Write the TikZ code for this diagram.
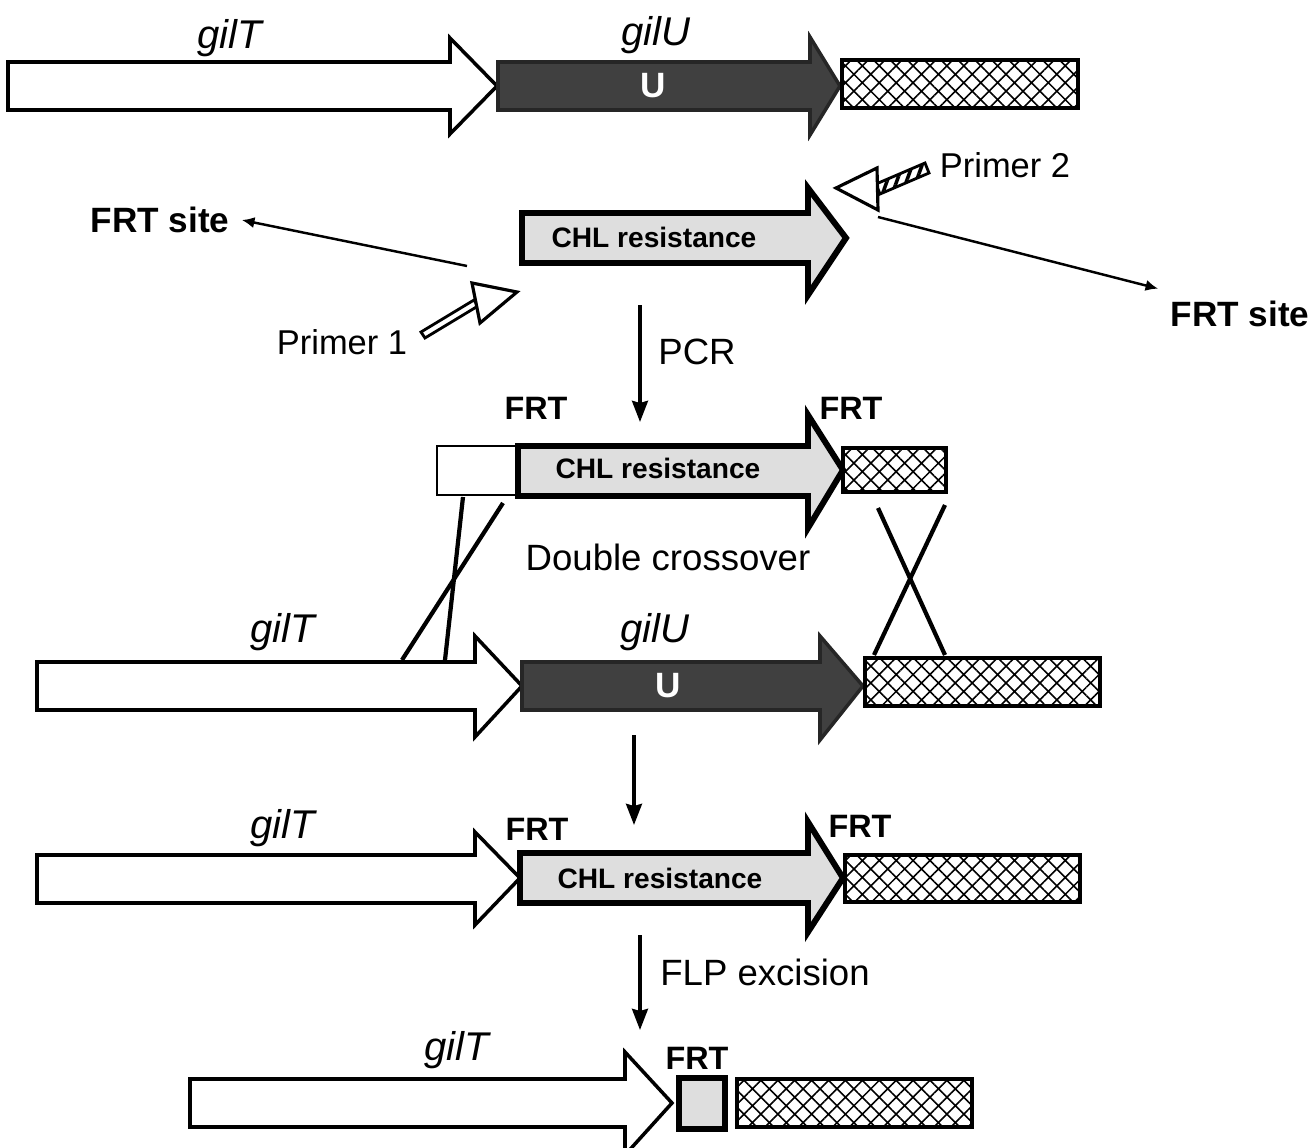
\documentclass[tikz,border=0pt]{standalone}
\usepackage{fontspec}
\setmainfont{Liberation Sans}
\usetikzlibrary{arrows.meta,patterns.meta}

\tikzset{
  gene/.style={draw, line width=1pt, fill=white, line join=miter},
  geneU/.style={draw=black!85, line width=1pt, fill=black!75, line join=miter},
  chl/.style={draw, line width=1.7pt, fill=black!13, line join=miter},
  hatchbox/.style={draw, line width=0.9pt, pattern={Hatch[angle=45,distance=3.4pt,line width=0.45pt]}},
  genename/.style={font=\fontsize{11.4}{13}\selectfont\itshape},
  sitetext/.style={font=\fontsize{10}{12}\selectfont\bfseries},
  primertext/.style={font=\fontsize{9.8}{12}\selectfont},
  chltext/.style={font=\fontsize{8}{10}\selectfont\bfseries},
  steptext/.style={font=\fontsize{10.4}{12}\selectfont},
  frttext/.style={font=\fontsize{9.2}{11}\selectfont\bfseries},
  utext/.style={font=\fontsize{10}{12}\selectfont\bfseries, text=white},
  flowarrow/.style={line width=1pt, -{Stealth[length=6pt,width=4.5pt,inset=0.6pt]}},
  pointer/.style={line width=0.7pt, -{Latex[length=3.6pt,width=3.2pt]}},
  crossline/.style={line width=1.2pt},
}

\begin{document}
\begin{tikzpicture}[x=0.01cm, y=-0.01cm]
  \useasboundingbox (0,0) rectangle (1314,1148);

  % Row 1: wild type
  \draw[gene] (8,62) -- (450,62) -- (450,38) -- (497,86) -- (450,134) -- (450,110) -- (8,110) -- cycle;
  \draw[geneU] (498,62) -- (810,62) -- (810,37) -- (840,86) -- (810,135) -- (810,110) -- (498,110) -- cycle;
  \draw[hatchbox] (842,60) rectangle (1078,108);
  \node[genename] (gilTa) at (230,38) {gilT};
  \node[genename] (gilUa) at (656,35) {gilU};
  \node[utext] (Ua) at (653,86) {U};

  % Template and primers
  \draw[chl] (522,213) -- (808,213) -- (808,188) -- (846,238) -- (808,295) -- (808,263) -- (522,263) -- cycle;
  \node[chltext] (chlA) at (654,237) {CHL resistance};
  % Primer 1
  \draw[line width=0.8pt, fill=white] (421,332) -- (425,338) -- (478,306) -- (474,300) -- cycle;
  \draw[line width=0.9pt, fill=white, line join=miter] (472,283) -- (517,292) -- (480,323) -- cycle;
  \node[primertext] (primA) at (342,342) {Primer 1};
  % Primer 2
  \draw[line width=0.8pt, pattern={Lines[angle=70,distance=2.6pt,line width=1pt]}] (880,194) -- (876,184) -- (925,163) -- (929,173) -- cycle;
  \draw[line width=0.9pt, fill=white, line join=miter] (836,188) -- (877,168) -- (878,210) -- cycle;
  \node[primertext] (primB) at (1005,165) {Primer 2};
  % FRT site pointers
  \node[sitetext] (siteL) at (160,220) {FRT site};
  \node[sitetext] (siteR) at (1240,314) {FRT site};
  \coordinate (ptrL) at (467,266);
  \coordinate (ptrR) at (878,217);
  \draw[pointer] (ptrL) -- (siteL.east);
  \draw[pointer] (ptrR) -- (siteR.north west);

  % PCR step
  \coordinate (pcrA) at (640,305);
  \coordinate (pcrB) at (640,422);
  \draw[flowarrow] (pcrA) -- (pcrB);
  \node[steptext] (pcr) at (697,352) {PCR};

  % Row 3: PCR product
  \draw[line width=0.7pt, fill=white] (437,446) rectangle (518,495);
  \draw[chl] (518,446) -- (808,446) -- (808,415) -- (843,470) -- (808,528) -- (808,496) -- (518,496) -- cycle;
  \draw[hatchbox] (843,448) rectangle (946,492);
  \node[chltext] (chlB) at (658,468) {CHL resistance};
  \node[frttext] (frtA) at (536,408) {FRT};
  \node[frttext] (frtB) at (851,408) {FRT};
  \node[steptext] (dco) at (668,557) {Double crossover};

  % crossover lines
  \coordinate (xa1) at (463,497);
  \coordinate (xa2) at (445,660);
  \coordinate (xb1) at (503,503);
  \coordinate (xb2) at (402,660);
  \coordinate (xc1) at (878,508);
  \coordinate (xc2) at (945,655);
  \coordinate (xd1) at (945,505);
  \coordinate (xd2) at (874,655);
  \draw[crossline] (xa1) -- (xa2);
  \draw[crossline] (xb1) -- (xb2);
  \draw[crossline] (xc1) -- (xc2);
  \draw[crossline] (xd1) -- (xd2);

  % Row 4: chromosome
  \draw[gene] (37,662) -- (475,662) -- (475,636) -- (522,686) -- (475,737) -- (475,710) -- (37,710) -- cycle;
  \draw[geneU] (522,662) -- (820,662) -- (820,636) -- (863,686) -- (820,740) -- (820,710) -- (522,710) -- cycle;
  \draw[hatchbox] (865,658) rectangle (1100,706);
  \node[genename] (gilTb) at (283,632) {gilT};
  \node[genename] (gilUb) at (655,632) {gilU};
  \node[utext] (Ub) at (668,686) {U};

  \coordinate (recA) at (634,735);
  \coordinate (recB) at (634,825);
  \draw[flowarrow] (recA) -- (recB);

  % Row 5: recombinant
  \draw[gene] (37,855) -- (475,855) -- (475,832) -- (520,878) -- (475,925) -- (475,903) -- (37,903) -- cycle;
  \draw[chl] (520,853) -- (808,853) -- (808,822) -- (843,878) -- (808,932) -- (808,903) -- (520,903) -- cycle;
  \draw[hatchbox] (845,855) rectangle (1080,902);
  \node[genename] (gilTc) at (283,828) {gilT};
  \node[frttext] (frtC) at (537,829) {FRT};
  \node[frttext] (frtD) at (860,826) {FRT};
  \node[chltext] (chlC) at (660,878) {CHL resistance};

  % FLP step
  \coordinate (flpA) at (640,935);
  \coordinate (flpB) at (640,1030);
  \draw[flowarrow] (flpA) -- (flpB);
  \node[steptext] (flp) at (765,972) {FLP excision};

  % Row 6: deletion mutant
  \draw[gene] (190,1079) -- (625,1079) -- (625,1052) -- (672,1103) -- (625,1155) -- (625,1127) -- (190,1127) -- cycle;
  \draw[line width=1.7pt, fill=black!13] (679,1078) rectangle (725,1129);
  \draw[hatchbox] (737,1079) rectangle (972,1127);
  \node[genename] (gilTd) at (457,1050) {gilT};
  \node[frttext] (frtE) at (697,1058) {FRT};

\end{tikzpicture}
\end{document}
